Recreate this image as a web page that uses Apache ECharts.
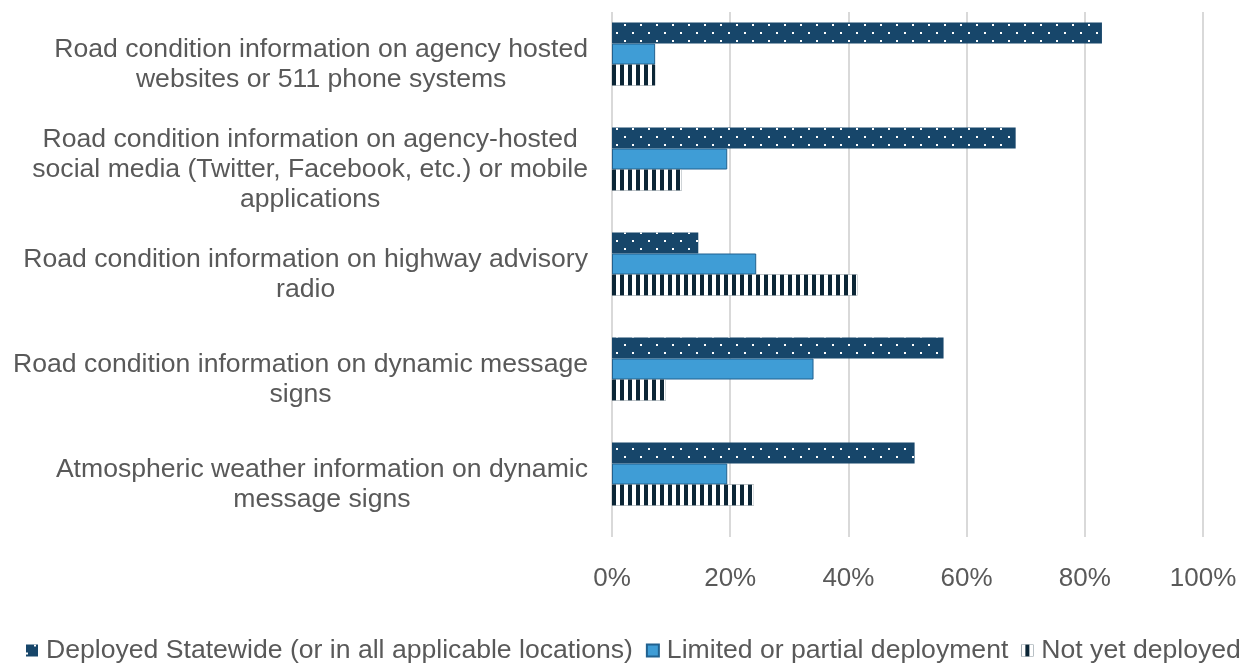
<!DOCTYPE html>
<html>
<head>
<meta charset="utf-8">
<script src="https://cdn.jsdelivr.net/npm/echarts@6/dist/echarts.min.js"></script>
<style>
html,body{margin:0;padding:0;background:#fff;}
#chart{width:1247px;height:664px;}
</style>
</head>
<body>
<div id="chart"></div>
<script>
// ---- Data ----
const categories = [
  "Road condition information on agency hosted\nwebsites or 511 phone systems",
  "Road condition information on agency-hosted\nsocial media (Twitter, Facebook, etc.) or mobile\napplications",
  "Road condition information on highway advisory\nradio",
  "Road condition information on dynamic message\nsigns",
  "Atmospheric weather information on dynamic\nmessage signs"
];
const seriesNames = [
  "Deployed Statewide (or in all applicable locations)",
  "Limited or partial deployment",
  "Not yet deployed"
];
const deployedStatewide = [82.9, 68.3, 14.6, 56.1, 51.2];
const limitedPartial = [7.3, 19.5, 24.4, 34.1, 19.5];
const notYetDeployed = [7.3, 11.8, 41.5, 9.1, 24.0];
const xTicks = [0, 20, 40, 60, 80, 100];

const FONT = "'Liberation Sans', Arial, sans-serif";
const TXT = '#595959';

const chart = echarts.init(document.getElementById('chart'));
chart.setOption({
  animation: false,
  backgroundColor: '#ffffff',
  textStyle: { fontFamily: FONT },
  grid: { left: 612, right: 44, top: 12, bottom: 127, containLabel: false },
  legend: {
    data: seriesNames,
    icon: 'rect',
    left: 26,
    top: 637,
    width: 1221,
    padding: 0,
    itemWidth: 12,
    itemHeight: 12,
    itemGap: 13,
    textStyle: { fontFamily: FONT, fontSize: 26.6, color: TXT, padding: [0, 0, 0, 3] }
  },
  xAxis: {
    type: 'value',
    min: xTicks[0],
    max: xTicks[xTicks.length - 1],
    interval: 20,
    axisLine: { show: false },
    axisTick: { show: false },
    splitLine: { show: true, lineStyle: { color: '#d9d9d9', width: 2 } },
    axisLabel: { formatter: '{value}%', fontFamily: FONT, fontSize: 26, color: TXT, margin: 29 }
  },
  yAxis: {
    type: 'category',
    data: categories,
    inverse: true,
    axisLine: { show: false },
    axisTick: { show: false },
    axisLabel: {
      margin: 24,
      align: 'right',
      formatter: v => v.split('\n').map(s => '{c|' + s + '}').join('\n'),
      rich: { c: { align: 'center', fontFamily: FONT, fontSize: 26.6, lineHeight: 30, color: TXT } }
    }
  },
  series: [
    {
      name: seriesNames[0], type: 'bar', data: deployedStatewide,
      barGap: '0%', barCategoryGap: '20%',
      itemStyle: {
        color: '#17466a',
        decal: { symbol: 'rect', symbolSize: 1, color: '#ffffff',
                 dashArrayX: [[2, 14], [0, 8, 2, 6]], dashArrayY: [2, 6] }
      }
    },
    {
      name: seriesNames[1], type: 'bar', data: limitedPartial,
      barGap: '0%', barCategoryGap: '20%',
      itemStyle: { color: '#3f9dd6', borderColor: '#21618f', borderWidth: 1 }
    },
    {
      name: seriesNames[2], type: 'bar', data: notYetDeployed,
      barGap: '0%', barCategoryGap: '20%',
      itemStyle: {
        color: '#0c2636',
        decal: { symbol: 'rect', symbolSize: 1, color: '#ffffff',
                 dashArrayX: [4, 4], dashArrayY: [4, 0] }
      }
    },
    {
      // empty spacer slot present in the original layout (no values)
      name: 'spacer', type: 'bar', data: [null, null, null, null, null],
      barGap: '0%', barCategoryGap: '20%', silent: true
    }
  ]
});
</script>
</body>
</html>
